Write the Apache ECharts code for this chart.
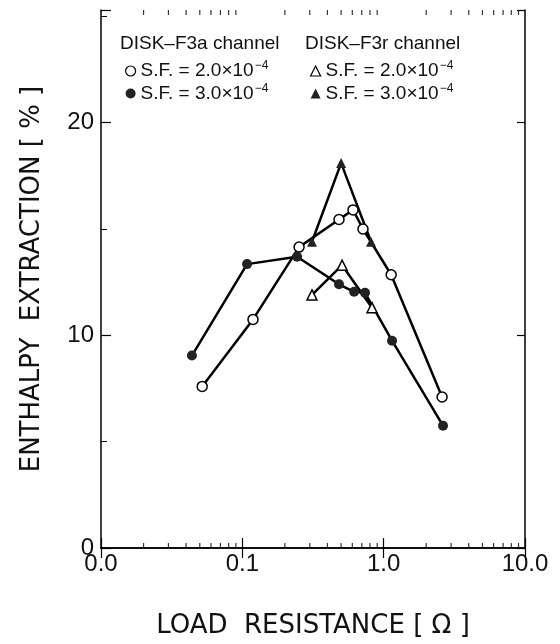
<!DOCTYPE html>
<html>
<head>
<meta charset="utf-8">
<script src="https://cdn.jsdelivr.net/npm/echarts@6/dist/echarts.min.js"></script>
<style>
  html, body { margin: 0; padding: 0; background: #fff; }
  #chart { width: 560px; height: 644px; }
</style>
</head>
<body>
<div id="chart"></div>
<script>
// DISK-F3a channel
var a20_x = [0.052, 0.119, 0.252, 0.483, 0.607, 0.714, 1.13, 2.59];
var a20_y = [7.6, 10.75, 14.15, 15.45, 15.9, 15.0, 12.85, 7.1];
var a30_x = [0.044, 0.108, 0.244, 0.483, 0.618, 0.738, 1.146, 2.63];
var a30_y = [9.05, 13.35, 13.7, 12.4, 12.05, 12.0, 9.75, 5.75];
// DISK-F3r channel
var r20_x = [0.311, 0.508, 0.827];
var r20_y = [11.9, 13.3, 11.3];
var r30_x = [0.311, 0.50, 0.814];
var r30_y = [14.4, 18.1, 14.4];

var xTickLabels = ['0.0', '0.1', '1.0', '10.0'];
var yMax = 25.3;
var minorX = [0.02, 0.03, 0.04, 0.05, 0.06, 0.07, 0.08, 0.09,
  0.2, 0.3, 0.4, 0.5, 0.6, 0.7, 0.8, 0.9,
  2, 3, 4, 5, 6, 7, 8, 9];

function pairs(xs, ys) {
  var out = [];
  for (var i = 0; i < xs.length; i++) out.push([xs[i], ys[i]]);
  return out;
}

var font = 'Liberation Sans, Arial, sans-serif';
var nameFont = 'DejaVu Sans, sans-serif';
var chart = echarts.init(document.getElementById('chart'));

function mkSeries(name, xs, ys, symbol, filled) {
  return {
    name: name,
    type: 'line',
    data: pairs(xs, ys),
    symbol: symbol,
    symbolSize: 10,
    showAllSymbol: true,
    lineStyle: { color: '#000', width: 2.5 },
    itemStyle: {
      color: filled ? '#222' : '#fff',
      borderColor: '#000',
      borderWidth: filled ? 0 : 1.5
    },
    z: 3,
    animation: false
  };
}

var lblA1 = 'S.F. = 2.0×10{sup|−4}';
var lblA2 = 'S.F. = 3.0×10{sup|−4} ';
var lblR1 = 'S.F. = 2.0×10{sup|−4}  ';
var lblR2 = 'S.F. = 3.0×10{sup|−4}   ';

var legendText = {
  fontFamily: font, fontSize: 19, color: '#111',
  rich: { sup: { fontFamily: font, fontSize: 12, color: '#111', verticalAlign: 'top', padding: [0, 0, 10, 1] } }
};

var option = {
  animation: false,
  backgroundColor: '#fff',
  grid: { left: 101, right: 35, top: 10, bottom: 92 },
  xAxis: [{
    type: 'log', logBase: 10, min: 0.01, max: 10,
    position: 'bottom',
    axisLine: { lineStyle: { color: '#000', width: 1.5 } },
    axisTick: { inside: true, length: 10, lineStyle: { color: '#000', width: 1.2 } },
    splitLine: { show: false },
    axisLabel: {
      fontFamily: font, fontSize: 24, color: '#111', margin: 4,
      formatter: function (v) { return xTickLabels[Math.round(Math.log10(v)) + 2]; }
    },
    name: 'LOAD  RESISTANCE [ Ω ]',
    nameLocation: 'middle',
    nameGap: 65,
    nameTextStyle: { fontFamily: nameFont, fontSize: 26, color: '#111' }
  }, {
    type: 'log', logBase: 10, min: 0.01, max: 10,
    position: 'top',
    axisLine: { lineStyle: { color: '#000', width: 1.5 } },
    axisTick: { inside: true, length: 10, lineStyle: { color: '#000', width: 1.2 } },
    axisLabel: { show: false },
    splitLine: { show: false }
  }],
  yAxis: [{
    type: 'value', min: 0, max: yMax, interval: 10,
    axisLine: { show: true, lineStyle: { color: '#000', width: 1.5 } },
    axisTick: { inside: true, length: 10, lineStyle: { color: '#000', width: 1.2 } },
    minorTick: { show: true, splitNumber: 2, length: 6, lineStyle: { color: '#000' } },
    splitLine: { show: false },
    axisLabel: {
      fontFamily: font, fontSize: 24, color: '#111', margin: 7,
      showMaxLabel: false
    },
    name: 'ENTHALPY  EXTRACTION [ % ]',
    nameLocation: 'middle',
    nameGap: 56,
    nameTextStyle: { fontFamily: nameFont, fontSize: 26, color: '#111' }
  }, {
    type: 'value', min: 0, max: yMax, interval: 10,
    position: 'right',
    axisLine: { show: true, lineStyle: { color: '#000', width: 1.5 } },
    axisTick: { inside: true, length: 8, lineStyle: { color: '#000', width: 1.2 } },
    axisLabel: { show: false },
    splitLine: { show: false }
  }],
  graphic: [
    { type: 'text', left: 120, top: 34, style: { text: 'DISK–F3a channel', font: '19px ' + font, fill: '#111' } },
    { type: 'text', left: 305, top: 34, style: { text: 'DISK–F3r channel', font: '19px ' + font, fill: '#111' } }
  ],
  legend: [{
    orient: 'vertical', left: 120, top: 55, itemGap: 2,
    itemWidth: 10, itemHeight: 10,
    textStyle: legendText,
    data: [
      { name: lblA1, icon: 'circle', itemStyle: { color: '#fff', borderColor: '#000', borderWidth: 1.2 } },
      { name: lblA2, icon: 'circle', itemStyle: { color: '#222', borderWidth: 0 } }
    ]
  }, {
    orient: 'vertical', left: 305, top: 55, itemGap: 2,
    itemWidth: 10, itemHeight: 10,
    textStyle: legendText,
    data: [
      { name: lblR1, icon: 'triangle', itemStyle: { color: '#fff', borderColor: '#000', borderWidth: 1.2 } },
      { name: lblR2, icon: 'triangle', itemStyle: { color: '#222', borderWidth: 0 } }
    ]
  }],
  series: [
    mkSeries(lblA1, a20_x, a20_y, 'circle', false),
    mkSeries(lblA2, a30_x, a30_y, 'circle', true),
    mkSeries(lblR1, r20_x, r20_y, 'triangle', false),
    mkSeries(lblR2, r30_x, r30_y, 'triangle', true),
    {
      type: 'scatter', silent: true, animation: false,
      data: minorX.map(function (x) { return [x, 0]; }),
      symbol: 'rect', symbolSize: [1.2, 5], symbolOffset: [0, -2.5],
      itemStyle: { color: '#000' }, z: 1
    },
    {
      type: 'scatter', silent: true, animation: false,
      data: minorX.map(function (x) { return [x, yMax]; }),
      symbol: 'rect', symbolSize: [1.2, 5], symbolOffset: [0, 2.5],
      itemStyle: { color: '#000' }, z: 1
    }
  ]
};

chart.setOption(option);
</script>
</body>
</html>
